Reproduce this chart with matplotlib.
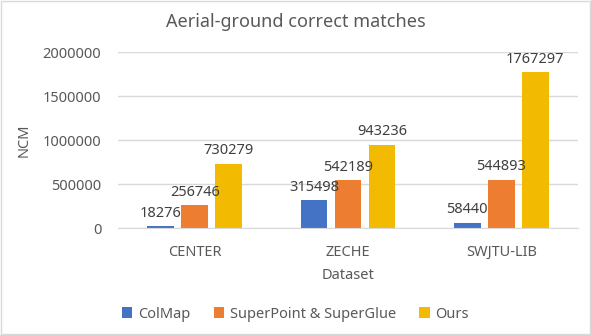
import matplotlib.pyplot as plt
import numpy as np

# data
datasets = ["CENTER", "ZECHE", "SWJTU-LIB"]
methods = ["ColMap", "SuperPoint & SuperGlue", "Ours"]
colmap = [18276, 315498, 58440]
spsg = [256746, 542189, 544893]
ours = [730279, 943236, 1767297]
yticks = [0, 500000, 1000000, 1500000, 2000000]

colors = ["#4472C4", "#ED7D31", "#F2BA00"]
text_color = "#595959"

plt.rcParams["font.family"] = ["Noto Sans", "DejaVu Sans"]

fig = plt.figure(figsize=(5.91, 3.35), dpi=100)
ax = fig.add_axes([118 / 591, 1 - 228 / 335, 460 / 591, 176 / 335])

x = np.arange(len(datasets))
width = 0.175
pitch = 0.222
series = [colmap, spsg, ours]
for i, (vals, name, c) in enumerate(zip(series, methods, colors)):
    pos = x + (i - 1) * pitch
    bars = ax.bar(pos, vals, width, color=c, label=name, zorder=2)
    for b, v in zip(bars, vals):
        ax.annotate(str(v), (b.get_x() + b.get_width() / 2, v),
                    xytext=(0, 4), textcoords="offset points",
                    ha="center", va="bottom", fontsize=10.5, color="#404040")

ax.set_xlim(-0.5, len(datasets) - 0.5)
ax.set_ylim(0, 2000000)
ax.set_yticks(yticks)
ax.set_yticklabels([str(t) for t in yticks])
ax.set_xticks(x)
ax.set_xticklabels(datasets)
ax.tick_params(axis="both", length=0, colors=text_color, labelsize=10.5)
ax.tick_params(axis="x", pad=12)
ax.tick_params(axis="y", pad=12)
ax.grid(axis="y", color="#D9D9D9", linewidth=1, zorder=0)
for s in ["top", "right", "left"]:
    ax.spines[s].set_visible(False)
ax.spines["bottom"].set_color("#D9D9D9")

ax.set_xlabel("Dataset", fontsize=10.5, color=text_color, labelpad=6)
ax.set_ylabel("NCM", fontsize=10.5, color=text_color, labelpad=8)

fig.suptitle("Aerial-ground correct matches", x=0.5, y=1 - 22 / 335, va="center",
             fontsize=13, color=text_color)

fig.legend(loc="center", bbox_to_anchor=(0.5, 1 - 314 / 335), ncol=3, frameon=False,
           fontsize=10.5, labelcolor=text_color, handlelength=0.7, handleheight=0.7,
           handletextpad=0.4, columnspacing=1.6)

fig.patches.append(plt.Rectangle((0.001, 0.002), 0.997, 0.995, transform=fig.transFigure,
                                 fill=False, edgecolor="#D9D9D9", linewidth=1))

fig.savefig("out.png", dpi=100)
